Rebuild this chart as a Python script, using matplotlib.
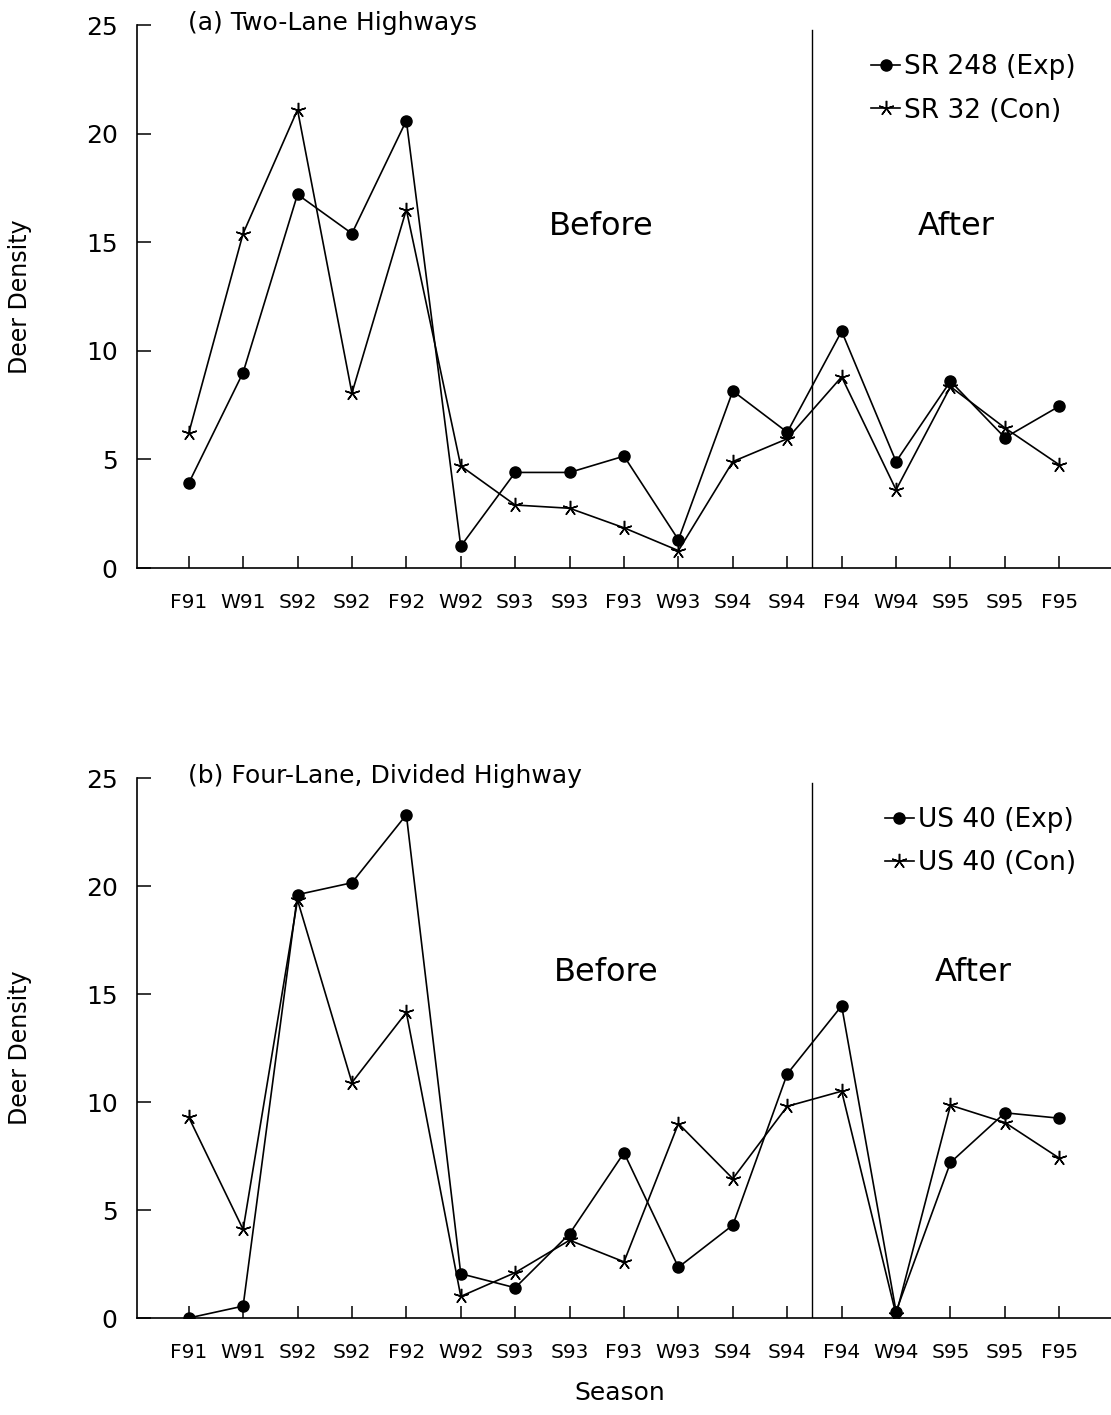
import matplotlib
matplotlib.use("Agg")
import matplotlib.pyplot as plt

seasons = ["F91", "W91", "S92", "S92", "F92", "W92", "S93", "S93", "F93",
           "W93", "S94", "S94", "F94", "W94", "S95", "S95", "F95"]

# Panel (a) Two-Lane Highways
sr248_exp = [3.9, 9.0, 17.2, 15.4, 20.6, 1.0, 4.4, 4.4, 5.15, 1.3, 8.15, 6.25, 10.9, 4.9, 8.6, 6.0, 7.45]
sr32_con = [6.2, 15.4, 21.1, 8.05, 16.5, 4.7, 2.9, 2.75, 1.85, 0.8, 4.9, 5.95, 8.8, 3.6, 8.35, 6.45, 4.75]

# Panel (b) Four-Lane, Divided Highway
us40_exp = [0.0, 0.55, 19.6, 20.15, 23.3, 2.05, 1.4, 3.9, 7.65, 2.35, 4.3, 11.3, 14.45, 0.3, 7.2, 9.5, 9.25]
us40_con = [9.3, 4.1, 19.35, 10.9, 14.15, 1.0, 2.1, 3.6, 2.6, 9.0, 6.45, 9.8, 10.5, 0.15, 9.85, 9.05, 7.4]

panels = [
    dict(title="(a) Two-Lane Highways", exp=sr248_exp, con=sr32_con,
         exp_label="SR 248 (Exp)", con_label="SR 32 (Con)",
         rect=[137/1111, 1-568/1415, 974/1111, 543/1415],
         before_x=7.58, after_x=14.1, txt_y=15.7),
    dict(title="(b) Four-Lane, Divided Highway", exp=us40_exp, con=us40_con,
         exp_label="US 40 (Exp)", con_label="US 40 (Con)",
         rect=[137/1111, 1-1318/1415, 974/1111, 540/1415],
         before_x=7.67, after_x=14.42, txt_y=16.0),
]

plt.rcParams['font.family'] = ['DejaVu Sans']
fig = plt.figure(figsize=(11.11, 14.15), dpi=100)
fig.patch.set_facecolor('white')

x = list(range(len(seasons)))
for p in panels:
    ax = fig.add_axes(p["rect"])
    ax.plot(x, p["exp"], color='black', lw=1.2, marker='o', ms=8,
            markerfacecolor='black', label=p["exp_label"])
    ax.plot(x, p["con"], color='black', lw=1.2, marker=(5, 2, 0), ms=11,
            markeredgewidth=1.1, label=p["con_label"])
    ax.set_xlim(-0.95, 16.95)
    ax.set_ylim(0, 25)
    ax.set_xticks(x)
    ax.set_xticklabels(seasons, fontsize=14.5)
    ax.set_yticks([0, 5, 10, 15, 20, 25])
    ax.tick_params(axis='y', direction='in', length=10, width=1.1, labelsize=18, pad=14)
    ax.tick_params(axis='x', direction='in', length=9, width=1.1, pad=18)
    for s in ['top', 'right']:
        ax.spines[s].set_visible(False)
    for s in ['left', 'bottom']:
        ax.spines[s].set_linewidth(1.2)
    ax.axvline(11.45, ymin=0, ymax=0.99, color='black', lw=1.0)
    ax.set_ylabel("Deer Density", fontsize=17)
    ax.yaxis.set_label_coords(-0.108, 0.5)
    ax.text(-0.02, 25.1, p["title"], fontsize=18, ha='left', va='center')
    ax.text(p["before_x"], p["txt_y"], "Before", fontsize=23, ha='center', va='center')
    ax.text(p["after_x"], p["txt_y"], "After", fontsize=23, ha='center', va='center')
    ax.legend(loc='upper right', bbox_to_anchor=(0.98, 0.975), frameon=False,
              fontsize=19, handlelength=1.1, handletextpad=0.15, labelspacing=0.65,
              borderaxespad=0.2)
    ax.set_facecolor('none')

fig.text(620/1111, 1-1393/1415, "Season", fontsize=18, ha='center', va='center')

fig.savefig("out.png", dpi=100, facecolor='white')
